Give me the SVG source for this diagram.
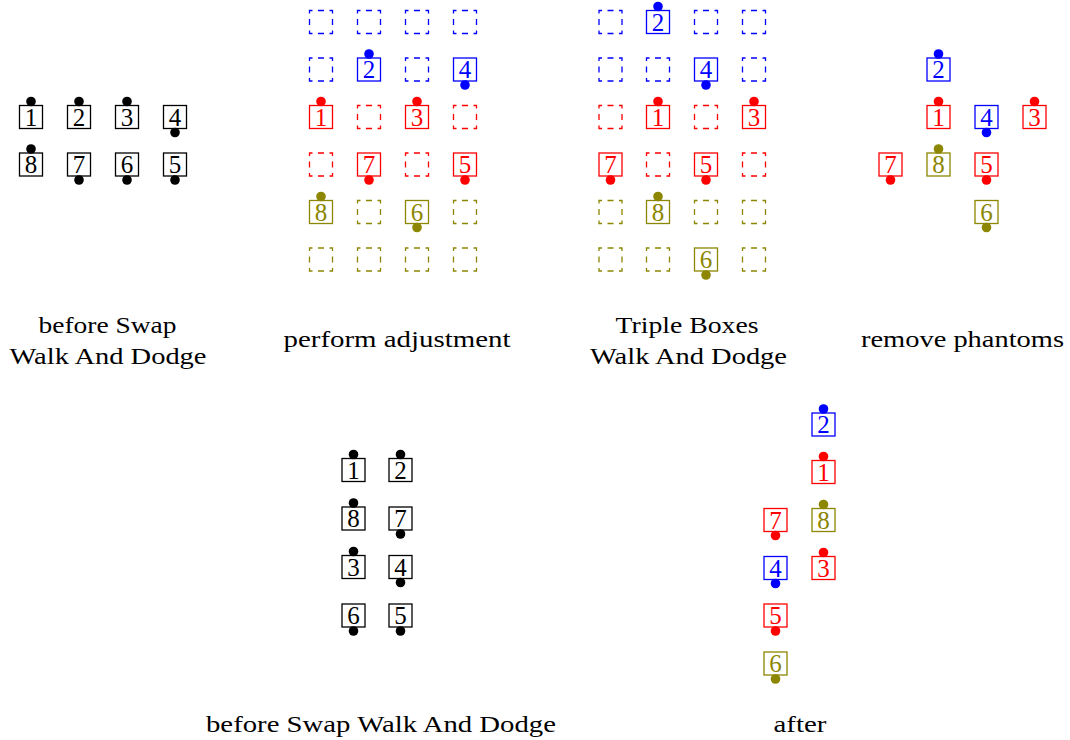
<svg xmlns="http://www.w3.org/2000/svg" width="1070" height="740" viewBox="0 0 1070 740">
<style>
.node rect{fill:none;stroke-width:1.3}
.ph{fill:none;stroke-width:1.3;stroke-dasharray:6 5.5;stroke-dashoffset:3}
.ph.b{stroke:#00f}.ph.r{stroke:#f00}.ph.o{stroke:#8c8600}
.node text{font-family:"Liberation Serif","DejaVu Serif",serif;font-size:25px;text-anchor:middle}
.k rect{stroke:#000}.k text,.k circle{fill:#000}
.r rect{stroke:#f00}.r text,.r circle{fill:#f00}
.b rect{stroke:#00f}.b text,.b circle{fill:#00f}
.o rect{stroke:#8c8600}.o text,.o circle{fill:#8c8600}
.lbl{font-family:"Liberation Serif","DejaVu Serif",serif;font-size:24px;text-anchor:middle;fill:#000}
</style>
<defs>
<rect id="box" x="-11.5" y="-11.5" width="23" height="23"/>
</defs>
<rect width="1070" height="740" fill="#fff"/>
<g id="connectors"/>

<!-- Panel 1: before Swap Walk And Dodge -->
<g id="panel1">
<g id="p1-1" class="node k" transform="translate(31,117)"><rect x="-11.5" y="-11.5" width="23" height="23"/><text y="8.5">1</text><circle cy="-15.5" r="4.8"/></g>
<g id="p1-2" class="node k" transform="translate(79,117)"><rect x="-11.5" y="-11.5" width="23" height="23"/><text y="8.5">2</text><circle cy="-15.5" r="4.8"/></g>
<g id="p1-3" class="node k" transform="translate(127,117)"><rect x="-11.5" y="-11.5" width="23" height="23"/><text y="8.5">3</text><circle cy="-15.5" r="4.8"/></g>
<g id="p1-4" class="node k" transform="translate(175,117)"><rect x="-11.5" y="-11.5" width="23" height="23"/><text y="8.5">4</text><circle cy="15.5" r="4.8"/></g>
<g id="p1-8" class="node k" transform="translate(31,164.5)"><rect x="-11.5" y="-11.5" width="23" height="23"/><text y="8.5">8</text><circle cy="-15.5" r="4.8"/></g>
<g id="p1-7" class="node k" transform="translate(79,164.5)"><rect x="-11.5" y="-11.5" width="23" height="23"/><text y="8.5">7</text><circle cy="15.5" r="4.8"/></g>
<g id="p1-6" class="node k" transform="translate(127,164.5)"><rect x="-11.5" y="-11.5" width="23" height="23"/><text y="8.5">6</text><circle cy="15.5" r="4.8"/></g>
<g id="p1-5" class="node k" transform="translate(175,164.5)"><rect x="-11.5" y="-11.5" width="23" height="23"/><text y="8.5">5</text><circle cy="15.5" r="4.8"/></g>
<text class="lbl" x="107.5" y="332.5" textLength="138" lengthAdjust="spacingAndGlyphs">before Swap</text>
<text class="lbl" x="108" y="364" textLength="197" lengthAdjust="spacingAndGlyphs">Walk And Dodge</text>
</g>

<!-- Panel 2: perform adjustment -->
<g id="panel2">
<g id="p2-ph-b" class="ph b"><use href="#box" x="321" y="22"/><use href="#box" x="369" y="22"/><use href="#box" x="417" y="22"/><use href="#box" x="465" y="22"/><use href="#box" x="321" y="69.5"/><use href="#box" x="417" y="69.5"/></g>
<g id="p2-ph-r" class="ph r"><use href="#box" x="369" y="117"/><use href="#box" x="465" y="117"/><use href="#box" x="321" y="164.5"/><use href="#box" x="417" y="164.5"/></g>
<g id="p2-ph-o" class="ph o"><use href="#box" x="369" y="212"/><use href="#box" x="465" y="212"/><use href="#box" x="321" y="259.5"/><use href="#box" x="369" y="259.5"/><use href="#box" x="417" y="259.5"/><use href="#box" x="465" y="259.5"/></g>
<g id="p2-2" class="node b" transform="translate(369,69.5)"><rect x="-11.5" y="-11.5" width="23" height="23"/><text y="8.5">2</text><circle cy="-15.5" r="4.8"/></g>
<g id="p2-4" class="node b" transform="translate(465,69.5)"><rect x="-11.5" y="-11.5" width="23" height="23"/><text y="8.5">4</text><circle cy="15.5" r="4.8"/></g>
<g id="p2-1" class="node r" transform="translate(321,117)"><rect x="-11.5" y="-11.5" width="23" height="23"/><text y="8.5">1</text><circle cy="-15.5" r="4.8"/></g>
<g id="p2-3" class="node r" transform="translate(417,117)"><rect x="-11.5" y="-11.5" width="23" height="23"/><text y="8.5">3</text><circle cy="-15.5" r="4.8"/></g>
<g id="p2-7" class="node r" transform="translate(369,164.5)"><rect x="-11.5" y="-11.5" width="23" height="23"/><text y="8.5">7</text><circle cy="15.5" r="4.8"/></g>
<g id="p2-5" class="node r" transform="translate(465,164.5)"><rect x="-11.5" y="-11.5" width="23" height="23"/><text y="8.5">5</text><circle cy="15.5" r="4.8"/></g>
<g id="p2-8" class="node o" transform="translate(321,212)"><rect x="-11.5" y="-11.5" width="23" height="23"/><text y="8.5">8</text><circle cy="-15.5" r="4.8"/></g>
<g id="p2-6" class="node o" transform="translate(417,212)"><rect x="-11.5" y="-11.5" width="23" height="23"/><text y="8.5">6</text><circle cy="15.5" r="4.8"/></g>
<text class="lbl" x="397" y="347" textLength="227" lengthAdjust="spacingAndGlyphs">perform adjustment</text>
</g>

<!-- Panel 3: Triple Boxes Walk And Dodge -->
<g id="panel3">
<g id="p3-ph-b" class="ph b"><use href="#box" x="610.5" y="22"/><use href="#box" x="706" y="22"/><use href="#box" x="754" y="22"/><use href="#box" x="610.5" y="69.5"/><use href="#box" x="658" y="69.5"/><use href="#box" x="754" y="69.5"/></g>
<g id="p3-ph-r" class="ph r"><use href="#box" x="610.5" y="117"/><use href="#box" x="706" y="117"/><use href="#box" x="658" y="164.5"/><use href="#box" x="754" y="164.5"/></g>
<g id="p3-ph-o" class="ph o"><use href="#box" x="610.5" y="212"/><use href="#box" x="706" y="212"/><use href="#box" x="754" y="212"/><use href="#box" x="610.5" y="259.5"/><use href="#box" x="658" y="259.5"/><use href="#box" x="754" y="259.5"/></g>
<g id="p3-2" class="node b" transform="translate(658,22)"><rect x="-11.5" y="-11.5" width="23" height="23"/><text y="8.5">2</text><circle cy="-15.5" r="4.8"/></g>
<g id="p3-4" class="node b" transform="translate(706,69.5)"><rect x="-11.5" y="-11.5" width="23" height="23"/><text y="8.5">4</text><circle cy="15.5" r="4.8"/></g>
<g id="p3-1" class="node r" transform="translate(658,117)"><rect x="-11.5" y="-11.5" width="23" height="23"/><text y="8.5">1</text><circle cy="-15.5" r="4.8"/></g>
<g id="p3-3" class="node r" transform="translate(754,117)"><rect x="-11.5" y="-11.5" width="23" height="23"/><text y="8.5">3</text><circle cy="-15.5" r="4.8"/></g>
<g id="p3-7" class="node r" transform="translate(610.5,164.5)"><rect x="-11.5" y="-11.5" width="23" height="23"/><text y="8.5">7</text><circle cy="15.5" r="4.8"/></g>
<g id="p3-5" class="node r" transform="translate(706,164.5)"><rect x="-11.5" y="-11.5" width="23" height="23"/><text y="8.5">5</text><circle cy="15.5" r="4.8"/></g>
<g id="p3-8" class="node o" transform="translate(658,212)"><rect x="-11.5" y="-11.5" width="23" height="23"/><text y="8.5">8</text><circle cy="-15.5" r="4.8"/></g>
<g id="p3-6" class="node o" transform="translate(706,259.5)"><rect x="-11.5" y="-11.5" width="23" height="23"/><text y="8.5">6</text><circle cy="15.5" r="4.8"/></g>
<text class="lbl" x="687" y="332.5" textLength="143" lengthAdjust="spacingAndGlyphs">Triple Boxes</text>
<text class="lbl" x="688.5" y="364" textLength="197" lengthAdjust="spacingAndGlyphs">Walk And Dodge</text>
</g>

<!-- Panel 4: remove phantoms -->
<g id="panel4">
<g id="p4-2" class="node b" transform="translate(938.5,69.5)"><rect x="-11.5" y="-11.5" width="23" height="23"/><text y="8.5">2</text><circle cy="-15.5" r="4.8"/></g>
<g id="p4-1" class="node r" transform="translate(938.5,117)"><rect x="-11.5" y="-11.5" width="23" height="23"/><text y="8.5">1</text><circle cy="-15.5" r="4.8"/></g>
<g id="p4-4" class="node b" transform="translate(986.5,117)"><rect x="-11.5" y="-11.5" width="23" height="23"/><text y="8.5">4</text><circle cy="15.5" r="4.8"/></g>
<g id="p4-3" class="node r" transform="translate(1034.5,117)"><rect x="-11.5" y="-11.5" width="23" height="23"/><text y="8.5">3</text><circle cy="-15.5" r="4.8"/></g>
<g id="p4-7" class="node r" transform="translate(890.5,164.5)"><rect x="-11.5" y="-11.5" width="23" height="23"/><text y="8.5">7</text><circle cy="15.5" r="4.8"/></g>
<g id="p4-8" class="node o" transform="translate(938.5,164.5)"><rect x="-11.5" y="-11.5" width="23" height="23"/><text y="8.5">8</text><circle cy="-15.5" r="4.8"/></g>
<g id="p4-5" class="node r" transform="translate(986.5,164.5)"><rect x="-11.5" y="-11.5" width="23" height="23"/><text y="8.5">5</text><circle cy="15.5" r="4.8"/></g>
<g id="p4-6" class="node o" transform="translate(986.5,212)"><rect x="-11.5" y="-11.5" width="23" height="23"/><text y="8.5">6</text><circle cy="15.5" r="4.8"/></g>
<text class="lbl" x="962.5" y="347" textLength="203" lengthAdjust="spacingAndGlyphs">remove phantoms</text>
</g>

<!-- Panel 5: before Swap Walk And Dodge (column) -->
<g id="panel5">
<g id="p5-1" class="node k" transform="translate(353.5,470)"><rect x="-11.5" y="-11.5" width="23" height="23"/><text y="8.5">1</text><circle cy="-15.5" r="4.8"/></g>
<g id="p5-2" class="node k" transform="translate(400.5,470)"><rect x="-11.5" y="-11.5" width="23" height="23"/><text y="8.5">2</text><circle cy="-15.5" r="4.8"/></g>
<g id="p5-8" class="node k" transform="translate(353.5,518.5)"><rect x="-11.5" y="-11.5" width="23" height="23"/><text y="8.5">8</text><circle cy="-15.5" r="4.8"/></g>
<g id="p5-7" class="node k" transform="translate(400.5,518.5)"><rect x="-11.5" y="-11.5" width="23" height="23"/><text y="8.5">7</text><circle cy="15.5" r="4.8"/></g>
<g id="p5-3" class="node k" transform="translate(353.5,567)"><rect x="-11.5" y="-11.5" width="23" height="23"/><text y="8.5">3</text><circle cy="-15.5" r="4.8"/></g>
<g id="p5-4" class="node k" transform="translate(400.5,567)"><rect x="-11.5" y="-11.5" width="23" height="23"/><text y="8.5">4</text><circle cy="15.5" r="4.8"/></g>
<g id="p5-6" class="node k" transform="translate(353.5,615.5)"><rect x="-11.5" y="-11.5" width="23" height="23"/><text y="8.5">6</text><circle cy="15.5" r="4.8"/></g>
<g id="p5-5" class="node k" transform="translate(400.5,615.5)"><rect x="-11.5" y="-11.5" width="23" height="23"/><text y="8.5">5</text><circle cy="15.5" r="4.8"/></g>
<text class="lbl" x="381" y="731.5" textLength="350" lengthAdjust="spacingAndGlyphs">before Swap Walk And Dodge</text>
</g>

<!-- Panel 6: after -->
<g id="panel6">
<g id="p6-2" class="node b" transform="translate(823.5,424.5)"><rect x="-11.5" y="-11.5" width="23" height="23"/><text y="8.5">2</text><circle cy="-15.5" r="4.8"/></g>
<g id="p6-1" class="node r" transform="translate(823.5,472)"><rect x="-11.5" y="-11.5" width="23" height="23"/><text y="8.5">1</text><circle cy="-15.5" r="4.8"/></g>
<g id="p6-8" class="node o" transform="translate(823.5,520)"><rect x="-11.5" y="-11.5" width="23" height="23"/><text y="8.5">8</text><circle cy="-15.5" r="4.8"/></g>
<g id="p6-3" class="node r" transform="translate(823.5,568)"><rect x="-11.5" y="-11.5" width="23" height="23"/><text y="8.5">3</text><circle cy="-15.5" r="4.8"/></g>
<g id="p6-7" class="node r" transform="translate(775.5,520)"><rect x="-11.5" y="-11.5" width="23" height="23"/><text y="8.5">7</text><circle cy="15.5" r="4.8"/></g>
<g id="p6-4" class="node b" transform="translate(775.5,568)"><rect x="-11.5" y="-11.5" width="23" height="23"/><text y="8.5">4</text><circle cy="15.5" r="4.8"/></g>
<g id="p6-5" class="node r" transform="translate(775.5,615.5)"><rect x="-11.5" y="-11.5" width="23" height="23"/><text y="8.5">5</text><circle cy="15.5" r="4.8"/></g>
<g id="p6-6" class="node o" transform="translate(775.5,663.5)"><rect x="-11.5" y="-11.5" width="23" height="23"/><text y="8.5">6</text><circle cy="15.5" r="4.8"/></g>
<text class="lbl" x="800" y="731.5" textLength="53" lengthAdjust="spacingAndGlyphs">after</text>
</g>
</svg>
